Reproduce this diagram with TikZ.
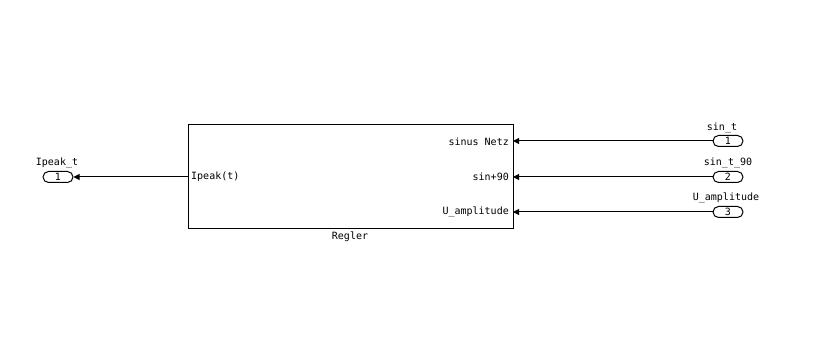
\documentclass[tikz,border=0pt]{standalone}
\usepackage{fontspec}
\setmonofont{DejaVu Sans Mono}
\usetikzlibrary{arrows.meta}
\tikzset{
  lbl/.style={font=\ttfamily\fontsize{10}{12}\selectfont, inner sep=0pt},
  port/.style={draw, line width=1pt, rounded corners=5.5pt, minimum width=30pt, minimum height=11pt, inner sep=0pt, font=\ttfamily\fontsize{10}{12}\selectfont},
  sig/.style={line width=1pt, -{Triangle[length=6pt,width=6pt]}},
}
\begin{document}
\begin{tikzpicture}[x=1pt,y=-1pt]
\useasboundingbox[fill=white] (0,0) rectangle (823,358);
% block
\node[draw, line width=1pt, minimum width=325pt, minimum height=104pt, inner sep=0pt, anchor=north west] (regler) at (188,124) {};
\node[lbl, anchor=north] (reglername) at (350,232) {Regler};
% port positions on the block
\coordinate (pin1) at (513,141);
\coordinate (pin2) at (513,177);
\coordinate (pin3) at (513,212);
\coordinate (pout) at (188,177);
\node[lbl, anchor=east] (lin1) at (509,142) {sinus Netz};
\node[lbl, anchor=east] (lin2) at (509,177) {sin+90};
\node[lbl, anchor=east] (lin3) at (509,212) {U\_amplitude};
\node[lbl, anchor=west] (lout) at (191,177) {Ipeak(t)};
% inports
\node[port] (in1) at (728,141) {1};
\node[port] (in2) at (728,177) {2};
\node[port] (in3) at (728,212) {3};
\node[lbl, anchor=south] (n1) at (722,133) {sin\_t};
\node[lbl, anchor=south] (n2) at (728,168) {sin\_t\_90};
\node[lbl, anchor=south] (n3) at (726,203) {U\_amplitude};
% outport
\node[port] (out1) at (58,177) {1};
\node[lbl, anchor=south] (no) at (57,168) {Ipeak\_t};
% connectors
\draw[sig] (in1.west) -- (pin1);
\draw[sig] (in2.west) -- (pin2);
\draw[sig] (in3.west) -- (pin3);
\draw[sig] (pout) -- (out1.east);
\end{tikzpicture}
\end{document}
